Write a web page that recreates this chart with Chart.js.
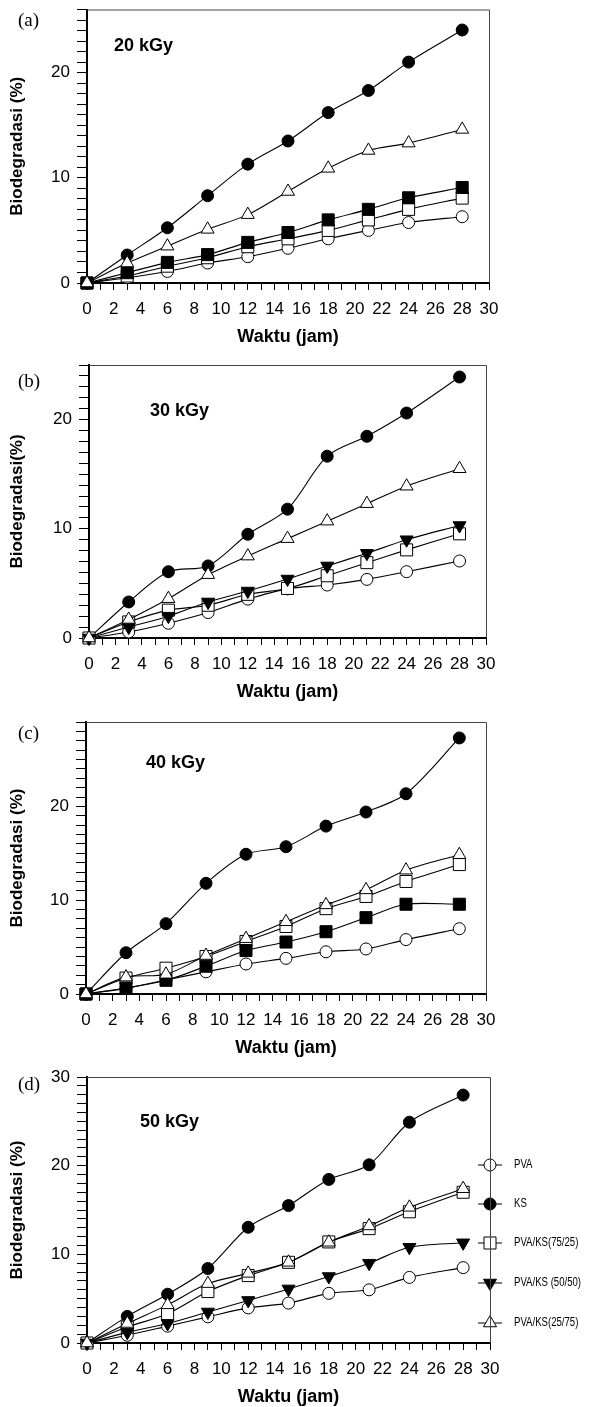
<!DOCTYPE html>
<html>
<head>
<meta charset="utf-8">
<script src="https://cdn.jsdelivr.net/npm/chart.js@4.4.1/dist/chart.umd.min.js"></script>
<style>
  html, body { margin: 0; padding: 0; background: #fff; overflow: hidden; }
  canvas { position: absolute; left: 0; }
</style>
</head>
<body>
<canvas id="ca" width="589" height="350" style="top:0px"></canvas>
<canvas id="cb" width="589" height="355" style="top:350px"></canvas>
<canvas id="cc" width="589" height="356" style="top:705px"></canvas>
<canvas id="cd" width="589" height="349" style="top:1061px"></canvas>
<script>
// sampling times (jam)
const waktu = [0, 3, 6, 9, 12, 15, 18, 21, 24, 28];
const xLabels = [0, 2, 4, 6, 8, 10, 12, 14, 16, 18, 20, 22, 24, 26, 28, 30];
const yLabels = [0, 10, 20, 30];
const seriesNames = ['PVA', 'KS', 'PVA/KS(75/25)', 'PVA/KS (50/50)', 'PVA/KS(25/75)'];

// (a) 20 kGy
const pva20 = [0, 0.5, 1.1, 1.9, 2.5, 3.3, 4.2, 5.0, 5.75, 6.3];
const ks20 = [0, 2.66, 5.25, 8.3, 11.3, 13.5, 16.2, 18.3, 21.0, 24.05];
const pk75_20 = [0, 0.66, 1.6, 2.4, 3.45, 4.2, 5.0, 6.0, 7.0, 8.07];
const pk50_20 = [0, 0.98, 1.96, 2.7, 3.86, 4.8, 6.0, 7.0, 8.1, 9.08];
const pk25_20 = [0, 1.9, 3.5, 5.1, 6.5, 8.7, 10.9, 12.6, 13.3, 14.6];

// (b) 30 kGy
const pva30 = [0, 0.55, 1.35, 2.33, 3.56, 4.5, 4.85, 5.37, 6.07, 7.05];
const ks30 = [0, 3.3, 6.07, 6.6, 9.5, 11.8, 16.65, 18.47, 20.6, 23.9];
const pk75_30 = [0, 1.47, 2.55, 3.0, 4.0, 4.54, 5.7, 6.9, 8.07, 9.54];
const pk50_30 = [0, 1.0, 2.0, 3.3, 4.3, 5.4, 6.6, 7.76, 9.0, 10.3];
const pk25_30 = [0, 1.7, 3.6, 5.8, 7.5, 9.1, 10.7, 12.3, 13.9, 15.5];

// (c) 40 kGy
const pva40 = [0, 0.6, 1.5, 2.36, 3.2, 3.8, 4.5, 4.8, 5.8, 6.96];
const ks40 = [0, 4.4, 7.5, 11.8, 14.9, 15.7, 17.9, 19.4, 21.35, 27.3];
const pk75_40 = [0, 1.7, 2.75, 4.0, 5.6, 7.2, 9.1, 10.4, 12.0, 13.8];
const pk50_40 = [0, 0.64, 1.46, 2.96, 4.64, 5.54, 6.64, 8.14, 9.57, 9.57];
const pk25_40 = [0, 1.8, 2.1, 4.1, 5.9, 7.7, 9.5, 11.1, 13.2, 14.85];

// (d) 50 kGy
const pva50 = [0, 0.87, 1.9, 2.95, 3.96, 4.5, 5.6, 6.0, 7.4, 8.5];
const ks50 = [0, 3.0, 5.5, 8.4, 13.05, 15.5, 18.45, 20.1, 24.9, 27.96];
const pk75_50 = [0, 1.8, 3.3, 5.8, 7.6, 9.1, 11.4, 12.9, 14.8, 17.0];
const pk50_50 = [0, 1.2, 2.2, 3.5, 4.8, 6.1, 7.5, 9.0, 10.8, 11.3];
const pk25_50 = [0, 2.2, 4.3, 6.7, 7.85, 9.1, 11.36, 13.2, 15.3, 17.4];

const panels = [
  { id: 'ca', tag: '(a)', dose: '20 kGy', yTitle: 'Biodegradasi (%)', yMax: 26,
    series: [pva20, ks20, pk75_20, pk50_20, pk25_20], mid: 'square',
    padTop: 9, padRight: 100, yWidth: 87, tagXY: [18, 21], doseXY: [114, 46] },
  { id: 'cb', tag: '(b)', dose: '30 kGy', yTitle: 'Biodegradasi(%)', yMax: 25,
    series: [pva30, ks30, pk75_30, pk50_30, pk25_30], mid: 'down',
    padTop: 15, padRight: 103, yWidth: 89, tagXY: [18, 32], doseXY: [150, 61] },
  { id: 'cc', tag: '(c)', dose: '40 kGy', yTitle: 'Biodegradasi (%)', yMax: 29,
    series: [pva40, ks40, pk75_40, pk50_40, pk25_40], mid: 'square',
    padTop: 17, padRight: 103, yWidth: 86, tagXY: [18, 29], doseXY: [146, 58] },
  { id: 'cd', tag: '(d)', dose: '50 kGy', yTitle: 'Biodegradasi (%)', yMax: 30,
    series: [pva50, ks50, pk75_50, pk50_50, pk25_50], mid: 'down',
    padTop: 16, padRight: 99, yWidth: 87, tagXY: [18, 24], doseXY: [140, 61],
    legendY: [104, 143, 182, 222, 262] }
];

function markerStyle(i, mid) {
  if (i === 0) return { pointStyle: 'circle', radius: 6, fill: '#fff', rot: 0 };
  if (i === 1) return { pointStyle: 'circle', radius: 6, fill: '#000', rot: 0 };
  if (i === 2) return { pointStyle: 'rect', radius: 8.5, fill: '#fff', rot: 0 };
  if (i === 3) return mid === 'down'
    ? { pointStyle: 'triangle', radius: 7.5, fill: '#000', rot: 180 }
    : { pointStyle: 'rect', radius: 8.5, fill: '#000', rot: 0 };
  return { pointStyle: 'triangle', radius: 7.5, fill: '#fff', rot: 0 };
}

const decor = {
  id: 'decor',
  afterDatasetsDraw(chart, args, o) {
    const { ctx, chartArea: a } = chart;
    ctx.save();
    if (o.legendY) {
      chart.data.datasets.forEach((ds, i) => {
        const y = o.legendY[i];
        const x = a.right;
        ctx.strokeStyle = '#000';
        ctx.lineWidth = 1;
        ctx.beginPath();
        ctx.moveTo(x - 12, y);
        ctx.lineTo(x + 12, y);
        ctx.stroke();
        ctx.fillStyle = ds.pointBackgroundColor;
        Chart.helpers.drawPoint(ctx, {
          pointStyle: ds.pointStyle, radius: ds.pointRadius,
          rotation: ds.pointRotation, borderWidth: 1
        }, x, y);
        // narrow legend text
        ctx.save();
        ctx.translate(x + 24, y);
        ctx.scale(0.8, 1);
        ctx.fillStyle = '#000';
        ctx.font = '12px "Liberation Sans", Arial, sans-serif';
        ctx.textAlign = 'left';
        ctx.textBaseline = 'middle';
        ctx.fillText(ds.label, 0, 0);
        ctx.restore();
      });
    }
    // top and right frame
    ctx.strokeStyle = '#444';
    ctx.lineWidth = 1;
    ctx.beginPath();
    ctx.moveTo(a.left, a.top + 0.5);
    ctx.lineTo(a.right + 0.5, a.top + 0.5);
    ctx.lineTo(a.right + 0.5, a.bottom);
    ctx.stroke();

    ctx.fillStyle = '#000';
    ctx.textAlign = 'left';
    ctx.textBaseline = 'middle';
    ctx.font = '19px "Liberation Serif", serif';
    ctx.fillText(o.tag, o.tagXY[0], o.tagXY[1]);
    ctx.font = 'bold 18px "Liberation Sans", Arial, sans-serif';
    ctx.fillText(o.dose, o.doseXY[0], o.doseXY[1]);
    ctx.restore();
  }
};

const tickFont = { family: '"Liberation Sans", Arial, sans-serif', size: 17 };
const titleFont = { family: '"Liberation Sans", Arial, sans-serif', size: 18, weight: 'bold' };

panels.forEach(p => {
  const datasets = p.series.map((vals, i) => {
    const m = markerStyle(i, p.mid);
    return {
      label: seriesNames[i],
      data: waktu.map((t, k) => ({ x: t, y: vals[k] })),
      borderColor: '#000',
      borderWidth: 1.1,
      tension: 0.3,
      pointStyle: m.pointStyle,
      pointRadius: m.radius,
      pointRotation: m.rot,
      pointBackgroundColor: m.fill,
      pointBorderColor: '#000',
      pointBorderWidth: 1,
      clip: false,
      order: 4 - i
    };
  });

  new Chart(document.getElementById(p.id), {
    type: 'line',
    data: { datasets },
    options: {
      responsive: false,
      animation: false,
      layout: { padding: { top: p.padTop, right: p.padRight, left: 0, bottom: 0 } },
      scales: {
        x: {
          type: 'linear',
          min: 0,
          max: 30,
          afterFit(s) { s.height = 67; s.paddingLeft = 0; s.paddingRight = 0; },
          ticks: {
            stepSize: 1, autoSkip: false, maxRotation: 0, color: '#000',
            font: tickFont, padding: 9,
            callback: v => xLabels.includes(v) ? String(v) : ''
          },
          grid: { drawOnChartArea: false, tickLength: 7, color: '#000' },
          border: { color: '#000', width: 2 },
          title: { display: true, text: 'Waktu (jam)', color: '#000', font: titleFont,
                   padding: { top: 0, bottom: 2 } }
        },
        y: {
          min: 0,
          max: p.yMax,
          afterFit(s) { s.width = p.yWidth; s.paddingTop = 0; s.paddingBottom = 0; },
          ticks: {
            stepSize: 1, autoSkip: false, color: '#000', font: tickFont, padding: 7,
            callback: v => yLabels.includes(v) ? String(v) : ''
          },
          grid: { drawOnChartArea: false, tickLength: 10, color: '#000' },
          border: { color: '#000', width: 2 },
          title: { display: true, text: p.yTitle, color: '#000',
                   font: { family: '"Liberation Sans", Arial, sans-serif', size: 17, weight: 'bold' },
                   padding: { top: 7, bottom: 0 } }
        }
      },
      plugins: {
        legend: { display: false },
        tooltip: { enabled: false },
        decor: { tag: p.tag, dose: p.dose, tagXY: p.tagXY, doseXY: p.doseXY, legendY: p.legendY }
      }
    },
    plugins: [decor]
  });
});
</script>
</body>
</html>
